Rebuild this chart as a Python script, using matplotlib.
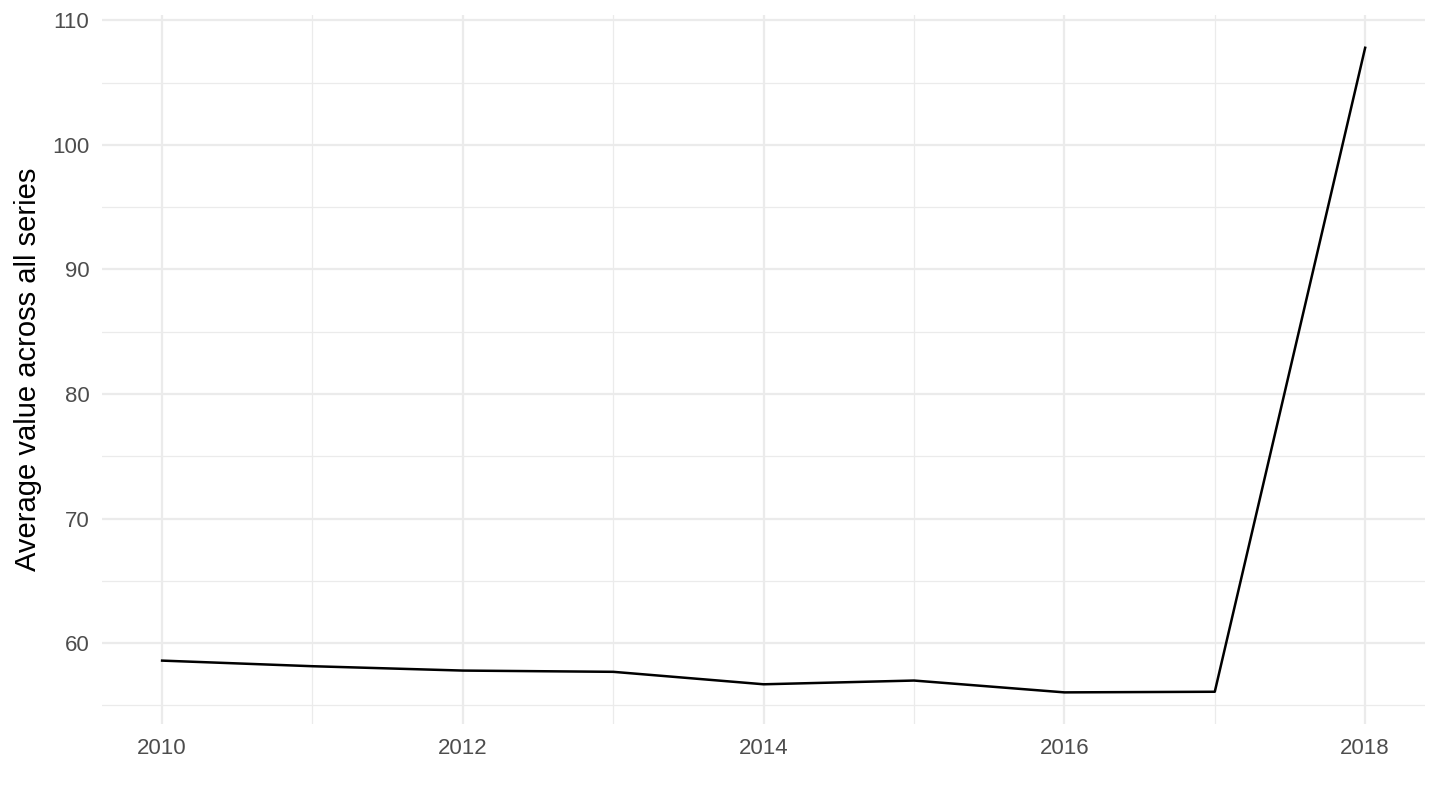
import numpy as np
import matplotlib
matplotlib.use('Agg')
from matplotlib import pyplot as plt
from matplotlib.ticker import MultipleLocator

years = [2010, 2011, 2012, 2013, 2014, 2015, 2016, 2017, 2018]
values = [58.6, 58.15, 57.8, 57.7, 56.7, 57.0, 56.05, 56.1, 107.8]

plt.rcParams['font.family'] = ['Liberation Sans', 'DejaVu Sans']

fig = plt.figure(figsize=(14.4, 8.1), dpi=100)
ax = fig.add_axes([0.0708, 0.106, 0.919, 0.875])

ax.plot(years, values, c='black', lw=1.8)

ax.set_xlim(2009.6, 2018.4)
ax.set_ylim(53.5, 110.4)
ax.xaxis.set_major_locator(MultipleLocator(2))
ax.xaxis.set_minor_locator(MultipleLocator(1))
ax.yaxis.set_major_locator(MultipleLocator(10))
ax.yaxis.set_minor_locator(MultipleLocator(5))

ax.grid(which='major', color='#EBEBEB', lw=1.6)
ax.grid(which='minor', color='#EBEBEB', lw=0.9)
ax.set_axisbelow(True)
for s in ax.spines.values():
    s.set_visible(False)
ax.tick_params(which='both', length=0, labelsize=16, colors='#4D4D4D')
ax.tick_params(axis='x', pad=10)
ax.tick_params(axis='y', pad=9)
ax.set_ylabel('Average value across all series', fontsize=21, color='black', labelpad=7)

fig.savefig('out.png', dpi=100)
